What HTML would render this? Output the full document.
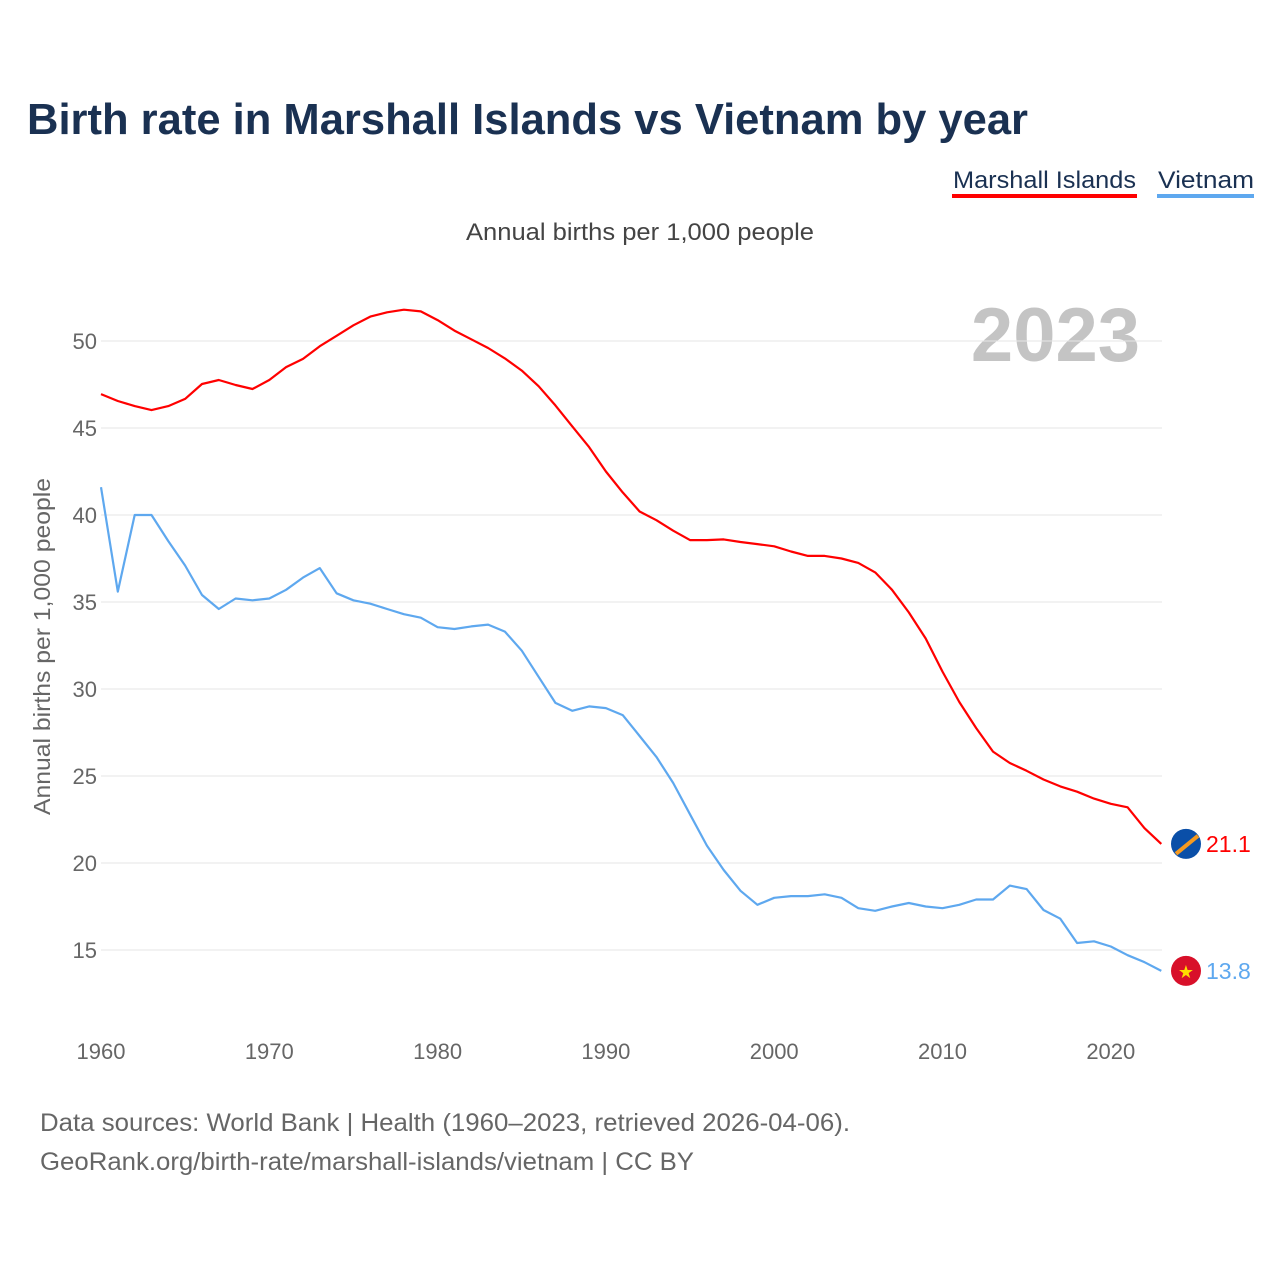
<!DOCTYPE html>
<html><head><meta charset="utf-8">
<style>
body{margin:0;background:#fff;font-family:"Liberation Sans",sans-serif;}
#wrap{position:relative;width:1280px;height:1280px;overflow:hidden;}
</style></head>
<body>
<div id="wrap">
<svg id="chart" width="1280" height="1280">
<text x="27" y="134" font-size="44" font-weight="bold" fill="#1a3152" textLength="1001" lengthAdjust="spacingAndGlyphs">Birth rate in Marshall Islands vs Vietnam by year</text>
<g>
<text x="953" y="188" font-size="24" fill="#1a3152" textLength="183" lengthAdjust="spacingAndGlyphs">Marshall Islands</text>
<rect x="952" y="194" width="185" height="4" fill="#ff0000"/>
<text x="1158" y="188" font-size="24" fill="#1a3152" textLength="96" lengthAdjust="spacingAndGlyphs">Vietnam</text>
<rect x="1157" y="194" width="97" height="4" fill="#5ea8ef"/>
</g>
<text x="466" y="240" font-size="24" fill="#444" textLength="348" lengthAdjust="spacingAndGlyphs">Annual births per 1,000 people</text>
<text x="1140" y="361" font-size="76" font-weight="bold" fill="#c4c4c4" text-anchor="end">2023</text>
<text transform="translate(50,815) rotate(-90)" font-size="23" fill="#666" textLength="337" lengthAdjust="spacingAndGlyphs">Annual births per 1,000 people</text>
<g id="grid"></g><g id="series"></g><g id="ends"></g>
<text x="40" y="1131" font-size="25" fill="#666" textLength="810" lengthAdjust="spacingAndGlyphs">Data sources: World Bank | Health (1960–2023, retrieved 2026-04-06).</text>
<text x="40" y="1170" font-size="25" fill="#666" textLength="654" lengthAdjust="spacingAndGlyphs">GeoRank.org/birth-rate/marshall-islands/vietnam | CC BY</text>
</svg>
</div>
<script>
const years=[];for(let y=1960;y<=2023;y++)years.push(y);
const marshall=[46.95,46.55,46.26,46.03,46.26,46.67,47.53,47.76,47.47,47.24,47.76,48.5,48.97,49.7,50.3,50.9,51.4,51.65,51.8,51.7,51.2,50.6,50.1,49.6,49.0,48.3,47.4,46.3,45.1,43.9,42.5,41.3,40.2,39.7,39.1,38.56,38.56,38.6,38.45,38.33,38.2,37.9,37.65,37.65,37.5,37.25,36.7,35.7,34.4,32.9,31.0,29.25,27.75,26.4,25.75,25.3,24.8,24.4,24.1,23.7,23.4,23.2,22.0,21.1];
const vietnam=[41.6,35.6,40.0,40.0,38.5,37.1,35.4,34.6,35.2,35.1,35.2,35.7,36.4,36.95,35.5,35.1,34.9,34.6,34.3,34.1,33.55,33.45,33.6,33.7,33.3,32.2,30.7,29.2,28.75,29.0,28.9,28.5,27.3,26.1,24.6,22.8,21.0,19.6,18.4,17.6,18.0,18.1,18.1,18.2,18.0,17.4,17.25,17.5,17.7,17.5,17.4,17.6,17.9,17.9,18.7,18.5,17.3,16.8,15.4,15.5,15.2,14.7,14.3,13.8];
const yTicks=[15,20,25,30,35,40,45,50];
const xTicks=[1960,1970,1980,1990,2000,2010,2020];
const NS="http://www.w3.org/2000/svg";
const x=v=>101+(v-1960)*16.83;
const y=v=>341+(50-v)*17.4;
function mk(t,a,p){const e=document.createElementNS(NS,t);for(const k in a)e.setAttribute(k,a[k]);p.appendChild(e);return e;}
const grid=document.getElementById('grid');
yTicks.forEach(t=>{
  const l=mk('line',{x1:101,x2:1162,y1:y(t),y2:y(t),stroke:'#e6e6e6','stroke-width':1},grid);
  
  
  const tx=mk('text',{x:97,y:y(t)+8,'font-size':22,fill:'#666','text-anchor':'end'},grid);
  tx.textContent=t;
  
  
});
xTicks.forEach(t=>{
  const tx=mk('text',{x:x(t),y:1059,'font-size':22,fill:'#666','text-anchor':'middle'},grid);
  tx.textContent=t;
  
  
});
const s=document.getElementById('series');
function line(vals,col,name){
  const d=vals.map((v,i)=>(i?'L':'M')+x(years[i]).toFixed(1)+','+y(v).toFixed(1)).join('');
  const p=mk('path',{d:d,fill:'none',stroke:col,'stroke-width':2.2,'stroke-linejoin':'round'},s);
  
  
}
line(marshall,'#ff0000','marshall-islands-line');
line(vietnam,'#5ea8ef','vietnam-line');
const ends=document.getElementById('ends');
function endLabel(vals,col,flag,name){
  const v=vals[vals.length-1],cy=y(v);
  const c=mk('circle',{cx:1186,cy:cy,r:15,fill:flag},ends);
  
  
  const t=mk('text',{x:1206,y:cy+8,'font-size':23,fill:col},ends);
  t.textContent=v.toFixed(1);
  
  
}
endLabel(marshall,'#ff0000','#0a4fa8','marshall-islands');
endLabel(vietnam,'#5ea8ef','#d8102a','vietnam');
const st=mk('text',{x:1186,y:y(13.8)+7,'font-size':18,fill:'#ffdd00','text-anchor':'middle'},ends);
st.textContent='★';


const sl=mk('line',{x1:1176,y1:y(21.1)+10,x2:1198,y2:y(21.1)-8,stroke:'#f59a20','stroke-width':4},ends);


</script>
</body></html>
